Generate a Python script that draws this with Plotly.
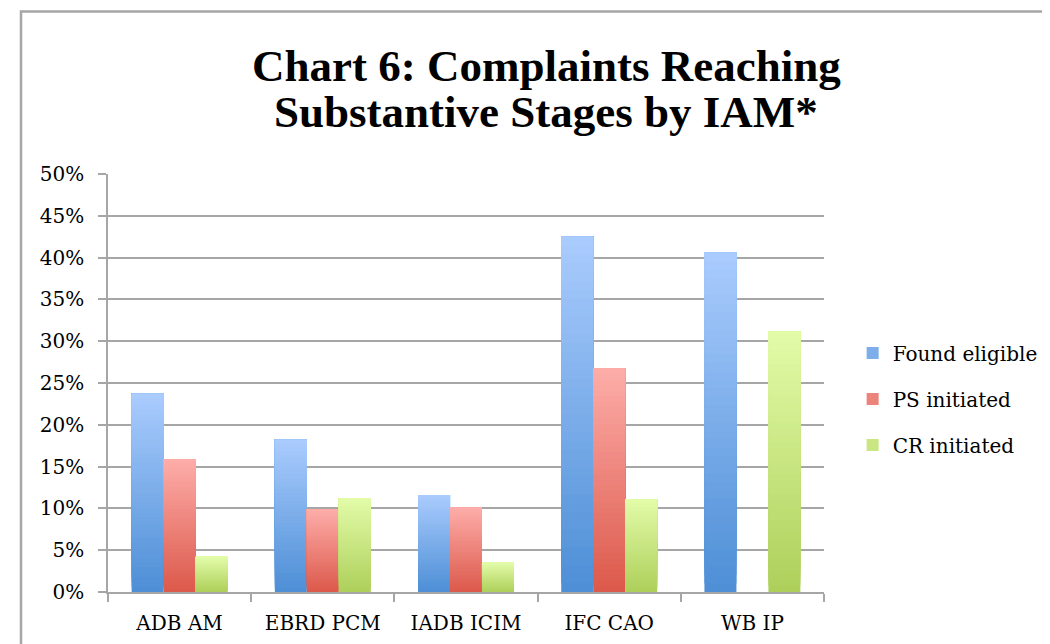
import plotly.graph_objects as go

# ---- data ----
categories = ["ADB AM", "EBRD PCM", "IADB ICIM", "IFC CAO", "WB IP"]
found_eligible = [23.7, 18.2, 11.6, 42.5, 40.6]
ps_initiated = [15.9, 9.9, 10.1, 26.8, 0.0]
cr_initiated = [4.2, 11.2, 3.5, 11.1, 31.2]
series_names = ["Found eligible", "PS initiated", "CR initiated"]
y_ticks = [0, 5, 10, 15, 20, 25, 30, 35, 40, 45, 50]
y_tick_labels = [f"{t}%" for t in y_ticks]

# gradient styles (bottom colour, top colour)
grad = {
    "Found eligible": ((0x4E, 0x8F, 0xD6), (0xA9, 0xCB, 0xFD)),
    "PS initiated": ((0xDC, 0x5A, 0x4C), (0xFD, 0xAC, 0xA8)),
    "CR initiated": ((0xAE, 0xD0, 0x5B), (0xE2, 0xFB, 0xA8)),
}
N_SLICES = 40

def mix(c0, c1, t):
    return "rgb(%d,%d,%d)" % tuple(round(a + (b - a) * t) for a, b in zip(c0, c1))

fig = go.Figure()
series_values = [found_eligible, ps_initiated, cr_initiated]
for name, vals in zip(series_names, series_values):
    c0, c1 = grad[name]
    for k in range(N_SLICES):
        t = k / (N_SLICES - 1)
        # each gradient layer runs from its start up to the bar top, so layers overlap without seams
        fig.add_trace(go.Bar(
            x=categories,
            y=[v * (N_SLICES - k) / N_SLICES for v in vals],
            base=[v * k / N_SLICES for v in vals],
            name=name,
            legendgroup=name,
            offsetgroup=name,
            showlegend=(k == N_SLICES // 2),
            marker=dict(color=mix(c0, c1, t), line=dict(width=0)),
            hoverinfo="skip" if k else "x+name",
        ))

grid_col = "#a6a6a6"
font_fam = "DejaVu Serif"

fig.update_layout(
    width=1050, height=644,
    margin=dict(l=100, r=234, t=166, b=60),
    paper_bgcolor="white", plot_bgcolor="white",
    barmode="group", bargap=0.33, bargroupgap=0,
    font=dict(family=font_fam, size=20, color="black"),
    legend=dict(
        x=1.04, xanchor="left", y=0.4617, yanchor="middle",
        font=dict(family=font_fam, size=20, color="black"),
        traceorder="grouped", tracegroupgap=17,
        bgcolor="rgba(0,0,0,0)",
    ),
    xaxis=dict(
        type="category",
        showline=True, linecolor=grid_col, linewidth=1.5,
        ticks="outside", tickson="boundaries", ticklen=8, tickcolor=grid_col, tickwidth=1.5,
        showgrid=False,
        ticklabelstandoff=12,
        tickfont=dict(family=font_fam, size=20, color="black"),
    ),
    yaxis=dict(
        range=[0, 50],
        tickvals=y_ticks, ticktext=y_tick_labels,
        showline=True, linecolor=grid_col, linewidth=1.5,
        ticks="outside", ticklen=8, tickcolor=grid_col, tickwidth=1.5,
        showgrid=True, gridcolor=grid_col, gridwidth=1.5,
        zeroline=False,
        ticklabelstandoff=10,
        tickfont=dict(family=font_fam, size=20, color="black"),
    ),
    shapes=[dict(
        type="rect", xref="paper", yref="paper",
        x0=-0.1215, x1=1.6, y0=-0.5, y1=1.3888,
        line=dict(color="#a6a6a6", width=2.5), fillcolor="rgba(0,0,0,0)",
        layer="below",
    )],
    annotations=[
        dict(text="<b>Chart 6: Complaints Reaching</b>", xref="paper", yref="paper",
             x=0.612, y=1.2584, xanchor="center", yanchor="middle", showarrow=False,
             font=dict(family="Liberation Serif", size=45, color="black")),
        dict(text="<b>Substantive Stages by IAM*</b>", xref="paper", yref="paper",
             x=0.612, y=1.1483, xanchor="center", yanchor="middle", showarrow=False,
             font=dict(family="Liberation Serif", size=45, color="black")),
    ],
)

fig.write_html("out.html")
